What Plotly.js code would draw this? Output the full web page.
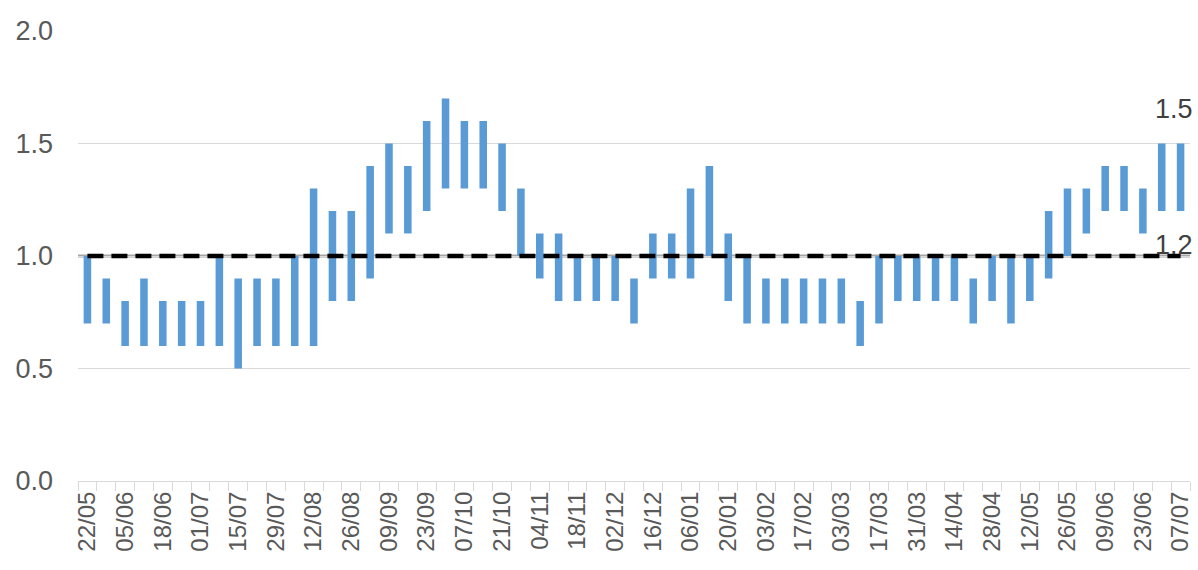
<!DOCTYPE html>
<html>
<head>
<meta charset="utf-8">
<script src="https://cdn.plot.ly/plotly-3.0.1.min.js"></script>
<style>
  html, body { margin: 0; padding: 0; background: #ffffff; }
  #chart { width: 1198px; height: 570px; }
</style>
</head>
<body>
<div id="chart"></div>
<script>
// Weekly periods (dd/mm)
const categories = [
  "22/05","29/05","05/06","12/06","18/06","25/06","01/07","08/07","15/07","22/07",
  "29/07","05/08","12/08","19/08","26/08","02/09","09/09","16/09","23/09","30/09",
  "07/10","14/10","21/10","28/10","04/11","11/11","18/11","25/11","02/12","09/12",
  "16/12","30/12","06/01","13/01","20/01","27/01","03/02","10/02","17/02","24/02",
  "03/03","10/03","17/03","24/03","31/03","07/04","14/04","21/04","28/04","05/05",
  "12/05","19/05","26/05","02/06","09/06","16/06","23/06","30/06","07/07"
];

// Lower bound of each range
const lowValues = [
  0.7,0.7,0.6,0.6,0.6,0.6,0.6,0.6,0.5,0.6,
  0.6,0.6,0.6,0.8,0.8,0.9,1.1,1.1,1.2,1.3,
  1.3,1.3,1.2,1.0,0.9,0.8,0.8,0.8,0.8,0.7,
  0.9,0.9,0.9,1.0,0.8,0.7,0.7,0.7,0.7,0.7,
  0.7,0.6,0.7,0.8,0.8,0.8,0.8,0.7,0.8,0.7,
  0.8,0.9,1.0,1.1,1.2,1.2,1.1,1.2,1.2
];

// Upper bound of each range
const highValues = [
  1.0,0.9,0.8,0.9,0.8,0.8,0.8,1.0,0.9,0.9,
  0.9,1.0,1.3,1.2,1.2,1.4,1.5,1.4,1.6,1.7,
  1.6,1.6,1.5,1.3,1.1,1.1,1.0,1.0,1.0,0.9,
  1.1,1.1,1.3,1.4,1.1,1.0,0.9,0.9,0.9,0.9,
  0.9,0.8,1.0,1.0,1.0,1.0,1.0,0.9,1.0,1.0,
  1.0,1.2,1.3,1.3,1.4,1.4,1.3,1.5,1.5
];

// Reference threshold
const referenceLevel = 1.0;

// Tick labels: every other period is labelled
const tickLabels = categories.map((c, i) => (i % 2 === 0 ? c : ""));

const spans = highValues.map((h, i) => +(h - lowValues[i]).toFixed(2));
const lastIdx = categories.length - 1;

const axisFont = { family: "Liberation Sans, Arial, sans-serif", color: "#595959" };

const traces = [
  {
    type: "bar",
    x: categories,
    y: spans,
    base: lowValues,
    width: 0.4,
    marker: { color: "#5b9bd5", line: { width: 0 } },
    hoverinfo: "x+text",
    text: highValues.map((h, i) => lowValues[i] + "–" + h),
    textposition: "none",
    showlegend: false
  },
  {
    type: "scatter",
    mode: "lines",
    x: categories,
    y: categories.map(() => referenceLevel),
    line: { color: "#000000", width: 4.5, dash: "16px,8px" },
    hoverinfo: "skip",
    showlegend: false
  }
];

const layout = {
  width: 1198,
  height: 570,
  margin: { l: 78, r: 8, t: 31, b: 89, pad: 0 },
  paper_bgcolor: "#ffffff",
  plot_bgcolor: "#ffffff",
  showlegend: false,
  bargap: 0.6,
  xaxis: {
    type: "category",
    categoryorder: "array",
    categoryarray: categories,
    range: [-0.5, categories.length - 0.5],
    tickmode: "array",
    tickvals: categories,
    ticktext: tickLabels,
    tickson: "boundaries",
    ticks: "outside",
    ticklen: 9,
    tickwidth: 1,
    tickcolor: "#d9d9d9",
    tickangle: -90,
    tickfont: Object.assign({ size: 24 }, axisFont),
    showline: true,
    linecolor: "#d9d9d9",
    linewidth: 1,
    showgrid: false,
    zeroline: false,
    fixedrange: true
  },
  yaxis: {
    range: [0, 2],
    tickmode: "linear",
    tick0: 0,
    dtick: 0.5,
    tickformat: ".1f",
    ticks: "",
    ticklabelstandoff: 24,
    tickfont: Object.assign({ size: 27 }, axisFont),
    showgrid: true,
    gridcolor: "#d9d9d9",
    gridwidth: 1,
    showline: false,
    zeroline: false,
    fixedrange: true
  },
  shapes: [
    {
      type: "line",
      xref: "paper", x0: 0, x1: 1,
      yref: "y", y0: referenceLevel, y1: referenceLevel,
      line: { color: "#a6a6a6", width: 3 },
      layer: "below"
    }
  ],
  annotations: [
    {
      x: categories[lastIdx], y: highValues[lastIdx],
      xref: "x", yref: "y",
      text: highValues[lastIdx].toFixed(1),
      showarrow: false,
      yanchor: "bottom",
      yshift: 18,
      xshift: -7,
      font: { family: "Liberation Sans, Arial, sans-serif", size: 27, color: "#404040" }
    },
    {
      x: categories[lastIdx], y: lowValues[lastIdx],
      xref: "x", yref: "y",
      text: lowValues[lastIdx].toFixed(1),
      showarrow: false,
      yanchor: "top",
      yshift: -17,
      xshift: -7,
      font: { family: "Liberation Sans, Arial, sans-serif", size: 27, color: "#404040" }
    }
  ]
};

Plotly.newPlot("chart", traces, layout, { displayModeBar: false, staticPlot: true });
</script>
</body>
</html>
